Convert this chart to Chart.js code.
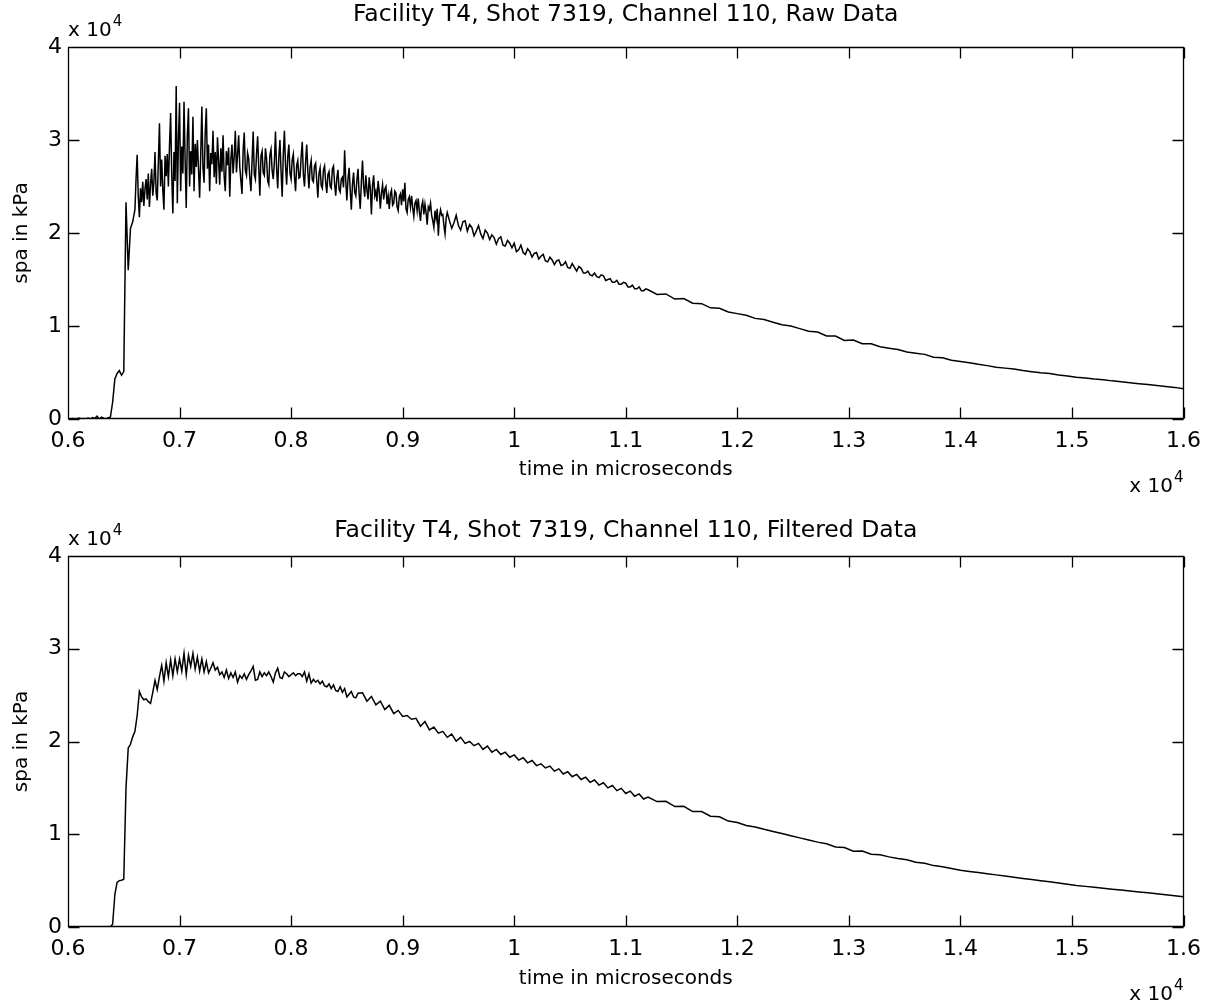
<!DOCTYPE html>
<html>
<head>
<meta charset="utf-8">
<script src="https://cdn.jsdelivr.net/npm/chart.js@4.4.1/dist/chart.umd.min.js"></script>
<style>
  html, body { margin: 0; padding: 0; background: #fff; }
  #wrap { position: relative; width: 1210px; height: 1004px; }
  canvas { position: absolute; left: 0; }
</style>
</head>
<body>
<div id="wrap">
  <canvas id="rawChart" width="1210" height="502" style="top:0"></canvas>
  <canvas id="filtChart" width="1210" height="502" style="top:502px"></canvas>
</div>
<script>
// sampled pressure trace, kPa; each block is sampled from t0 every `step` microseconds
const rawOnset = { t0: 6000, step: 20, values: [
  0, 0, 50, 0, 0, 100, 0, 50, 0, 100, 0, 150, 50, 300, 0, 200, 100, 0, 150, 200,
  1800, 4300, 4900, 5200, 4700, 5100, 23300, 16000, 20500, 21200] }
const rawPlateau = { t0: 6600, step: 10, values: [
  22500, 25800, 28400, 23900, 21700, 24800, 23300, 25500, 22900, 24700,
  25800, 23600, 26400, 22800, 25200, 26900, 24000, 25500, 28700, 24300,
  23500, 27600, 31800, 25000, 27900, 24600, 22500, 28300, 26100, 28500,
  25000, 29400, 32900, 26200, 22100, 28700, 25600, 35800, 23200, 30100,
  34000, 24500, 29300, 26400, 34100, 27800, 22700, 30500, 33400, 25000,
  28800, 26300, 32500, 24500, 29600, 27100, 30000, 26800, 23800, 28500,
  33600, 27000, 25400, 30700, 33400, 26900, 29500, 24500, 28600, 27400,
  31000, 26000, 28700, 25300, 30300, 27700, 25200, 29100, 26600, 30500,
  26100, 24500, 28800, 27300, 29200, 23900, 27900, 29500, 26400, 28200,
  31000, 26500, 28400, 30500, 27100, 25600, 24200, 28900, 30800, 26700,
  26200, 28600, 28000, 25900, 24500, 27700, 30900, 26300, 25800, 28500,
  30400, 27000, 24000, 28300, 28800, 26500, 26200, 29100, 28000, 25600,
  25200, 28400, 29000, 26700, 25800, 27600, 30900, 26900, 24800, 28100,
  30000, 26600, 23900, 28500, 31000, 27300, 25200, 28200, 29500, 26400,
  25800, 27900, 28500, 26100, 24500, 27300, 27800, 25900, 26000, 28200,
  29800, 26300, 25000, 27600, 29500, 26700, 24800, 27100, 27800, 25700,
  25500, 27200, 27500, 25600, 23800, 26400, 27000, 25100, 24800, 26800,
  27200, 25400, 24300, 26300, 26600, 25000, 24800, 26900, 27200, 25300,
  24000, 25900, 26800, 24700, 24400, 25800, 26000, 24900, 28900, 25600,
  23500, 25800, 27000, 24600, 22500, 25200, 26500, 24400, 24000, 25700] }
const rawMid = { t0: 8600, step: 10, values: [
  26900, 24200, 22600, 25500, 27800, 25000, 23900, 26200, 24600, 23600,
  26000, 24800, 22000, 25100, 26200, 24000, 24500, 23400, 25600, 24500,
  22600, 24300, 25200, 23600, 24700, 25000, 23100, 24000, 22600, 24200,
  24600, 23000, 23200, 24500, 24300, 22800, 22400, 23900, 24200, 23000,
  24700, 23400, 25400, 22600, 22200, 23600, 23900, 22800, 24000, 22700,
  21800, 23200, 23500, 22400, 23700, 22300, 21300, 22900, 23400, 22000,
  23100, 22200, 20900, 22800, 22500, 23200, 21900, 21300, 20600, 22400,
  21500, 22600, 19700, 21800, 22500, 21900, 22000, 20800, 19900, 21600] }
const rawDecay = { t0: 9400, step: 20, values: [
  22200, 21300, 20500, 21100, 21900, 20800, 20300, 21200, 21300, 20200,
  20900, 20600, 19700, 20200, 20800, 19900, 19400, 20300, 20000, 19300,
  19800, 19500, 18800, 19400, 19600, 18700, 18600, 19200, 18900, 18400,
  18900, 18000, 18200, 18700, 17900, 17700, 18300, 18000, 17400, 17800,
  17900, 17200, 17500, 17700, 17000, 16900, 17400, 17100, 16600, 17000,
  17100, 16500, 16600, 16900, 16300, 16200, 16700, 16300, 15900, 16400,
  16200, 15700, 15700, 15900, 15500, 15400, 15700, 15300, 15200, 15500,
  15400, 14900, 15000, 15100, 14700, 14700, 14900, 14500, 14500, 14700,
  14600, 14200, 14200, 14400, 14000, 14000, 14200, 13800, 13800, 14000] }
const rawTail = { t0: 11200, step: 80, values: [
  13900, 13400, 13450, 12900, 12950, 12450, 12400, 11950, 11900, 11510, 11330,
  11150, 10820, 10690, 10410, 10130, 10000, 9720, 9440, 9360, 8930, 8920, 8450,
  8500, 8090, 8080, 7760, 7620, 7480, 7200, 7070, 6950, 6650, 6590, 6320, 6190,
  6060, 5880, 5740, 5570, 5470, 5370, 5210, 5090, 4970, 4880, 4740, 4630,
  4490, 4410, 4300, 4230, 4100, 4000, 3900, 3800, 3700, 3600, 3500, 3400, 3250] }

const filtOnset = { t0: 6000, step: 20, values: [
  0, 0, 0, 0, 0, 0, 0, 0, 0, 0, 0, 0, 0, 0, 0, 0, 0, 0, 0, 0,
  300, 3500, 4800, 5000, 5050, 5150, 15000, 19300, 19700, 20500, 21100, 22800, 25400] }
const filtPlateau = { t0: 6660, step: 20, values: [
  24800, 24500, 24600, 24300, 24100, 25300, 26600, 25600, 27000, 28200,
  26500, 28500, 27000, 28800, 27100, 28900, 27500, 28900, 27600, 29500,
  27200, 29300, 28100, 29500, 27800, 29100, 27600, 28900, 27500, 28600,
  27400, 27900, 28500, 27700, 28000, 27200, 27500, 26900, 27700, 26800,
  27400, 26900, 27500, 26400, 27100, 26800, 27300, 26700, 27200, 27600,
  28100, 26600, 26700, 27500, 27000, 27400, 27100, 27500, 27000, 26400,
  27400, 27900, 26900, 26800, 27500, 27300, 27000, 27200, 27400, 27100,
  27300, 27300, 27000, 27500, 26500, 27300, 26300, 26700, 26400, 26600,
  26200, 26500, 26000, 25900, 26200, 25700, 26100, 25500, 25400, 25900,
  25300, 25700, 24800, 25100, 25400, 24800, 24700, 25200] }
const filtDecay = { t0: 8640, step: 40, values: [
  25250, 24350, 24850, 23950, 24350, 23450, 23900, 23000, 23350, 22700,
  22800, 22400, 22500, 21650, 22150, 21250, 21550, 20900, 21100, 20450,
  20800, 20050, 20450, 19800, 20000, 19550, 19800, 19150, 19500, 18850,
  19150, 18600, 18850, 18300, 18550, 18000, 18250, 17700, 17950, 17400,
  17600, 17150, 17350, 16800, 17050, 16500, 16750, 16200, 16450, 15900,
  16150, 15600, 15850, 15300, 15550, 15000, 15250, 14700, 14950, 14400,
  14650, 14100, 14350, 13800, 14000] }
const filtTail = { t0: 11280, step: 80, values: [
  13520, 13550, 12980, 13010, 12450, 12450, 11950, 11880, 11420, 11270,
  10940, 10790, 10530, 10300, 10070, 9840, 9610, 9380, 9150, 8980, 8630, 8560,
  8180, 8200, 7840, 7800, 7560, 7380, 7240, 6980, 6880, 6620, 6500, 6300, 6120,
  5990, 5870, 5740, 5620, 5490, 5370, 5240, 5120, 4990, 4870, 4740, 4620,
  4480, 4380, 4280, 4180, 4080, 3980, 3880, 3780, 3680, 3580, 3480, 3370, 3260] }

const xTicks = [6000, 7000, 8000, 9000, 10000, 11000, 12000, 13000, 14000, 15000, 16000]
const yTicks = [0, 10000, 20000, 30000, 40000]

const FONT = "'DejaVu Sans', Verdana, sans-serif"
const TICK = 11
const TITLE_SIZE = 23.5
const LABEL_SIZE = 20
const TICK_SIZE = 22

function toPoints(blocks) {
  const pts = []
  blocks.forEach(b => b.values.forEach((v, i) => pts.push({ x: b.t0 + i * b.step, y: v })))
  return pts
}

function drawExponent(ctx, x, y, alignRight) {
  ctx.font = '20px ' + FONT
  const bw = ctx.measureText('x 10').width
  ctx.font = '15px ' + FONT
  const ew = ctx.measureText('4').width
  const x0 = alignRight ? x - bw - ew - 1 : x
  ctx.font = '20px ' + FONT
  ctx.fillText('x 10', x0, y)
  ctx.font = '15px ' + FONT
  ctx.fillText('4', x0 + bw + 1, y - 10)
}

// boxed axes with inward ticks, like the original plotting tool
const matlabAxes = {
  id: 'matlabAxes',
  afterDraw(chart) {
    const { ctx, chartArea: a, scales } = chart
    const L = Math.round(a.left) + 0.5, R = Math.round(a.right) - 0.5
    const T = Math.round(a.top) + 0.5, B = Math.round(a.bottom) - 0.5
    ctx.save()
    ctx.strokeStyle = '#000'
    ctx.lineWidth = 1.3
    ctx.beginPath()
    ctx.rect(L, T, R - L, B - T)
    scales.x.ticks.forEach(t => {
      const px = Math.round(scales.x.getPixelForValue(t.value)) + 0.5
      ctx.moveTo(px, B); ctx.lineTo(px, B - TICK)
      ctx.moveTo(px, T); ctx.lineTo(px, T + TICK)
    })
    scales.y.ticks.forEach(t => {
      const py = Math.round(scales.y.getPixelForValue(t.value)) + 0.5
      ctx.moveTo(L, py); ctx.lineTo(L + TICK, py)
      ctx.moveTo(R, py); ctx.lineTo(R - TICK, py)
    })
    ctx.stroke()
    ctx.fillStyle = '#000'
    ctx.textBaseline = 'alphabetic'
    ctx.textAlign = 'left'
    drawExponent(ctx, a.left, a.top - 11, false)
    drawExponent(ctx, a.right, a.bottom + 73, true)
    ctx.restore()
  }
}

function buildChart(id, title, points, box) {
  const canvasH = 502
  const titleLH = TITLE_SIZE * 1.2
  const labelLH = LABEL_SIZE * 1.2
  return new Chart(document.getElementById(id), {
    type: 'line',
    data: {
      datasets: [{
        data: points,
        borderColor: '#000',
        borderWidth: 1.5,
        pointRadius: 0,
        tension: 0,
        fill: false,
      }],
    },
    options: {
      responsive: false,
      animation: false,
      devicePixelRatio: 1,
      events: [],
      layout: { padding: { left: 0, right: 26, top: 0, bottom: 0 } },
      plugins: {
        legend: { display: false },
        tooltip: { enabled: false },
        title: {
          display: true,
          fullSize: false,
          text: title,
          color: '#000',
          font: { family: FONT, size: TITLE_SIZE, weight: 'normal', lineHeight: 1.2 },
          padding: { top: box.titleCenter - titleLH / 2, bottom: box.areaTop - box.titleCenter - titleLH / 2 },
        },
      },
      scales: {
        x: {
          type: 'linear',
          min: 6000,
          max: 16000,
          grid: { display: false, drawTicks: false },
          border: { display: false },
          afterBuildTicks: s => { s.ticks = xTicks.map(v => ({ value: v })) },
          ticks: {
            autoSkip: false,
            maxRotation: 0,
            padding: 9,
            color: '#000',
            font: { family: FONT, size: TICK_SIZE },
            callback: v => String(+(v / 1e4).toFixed(2)),
          },
          title: {
            display: true,
            text: 'time in microseconds',
            color: '#000',
            font: { family: FONT, size: LABEL_SIZE },
            padding: { top: 0, bottom: canvasH - box.xTitleCenter - labelLH / 2 },
          },
          afterFit: s => { s.height = canvasH - box.areaBottom },
        },
        y: {
          min: 0,
          max: 40000,
          grid: { display: false, drawTicks: false },
          border: { display: false },
          afterBuildTicks: s => { s.ticks = yTicks.map(v => ({ value: v })) },
          ticks: {
            padding: 6,
            color: '#000',
            font: { family: FONT, size: TICK_SIZE },
            callback: v => String(v / 1e4),
          },
          title: {
            display: true,
            text: 'spa in kPa',
            color: '#000',
            font: { family: FONT, size: LABEL_SIZE },
            padding: { top: 22 - labelLH / 2, bottom: 0 },
          },
          afterFit: s => { s.width = 68 },
        },
      },
    },
    plugins: [matlabAxes],
  })
}

buildChart('rawChart', 'Facility T4, Shot 7319, Channel 110, Raw Data',
  toPoints([rawOnset, rawPlateau, rawMid, rawDecay, rawTail]),
  { titleCenter: 15, areaTop: 47, areaBottom: 419, xTitleCenter: 470 })

buildChart('filtChart', 'Facility T4, Shot 7319, Channel 110, Filtered Data',
  toPoints([filtOnset, filtPlateau, filtDecay, filtTail]),
  { titleCenter: 29, areaTop: 54, areaBottom: 425, xTitleCenter: 477 })
</script>
</body>
</html>
